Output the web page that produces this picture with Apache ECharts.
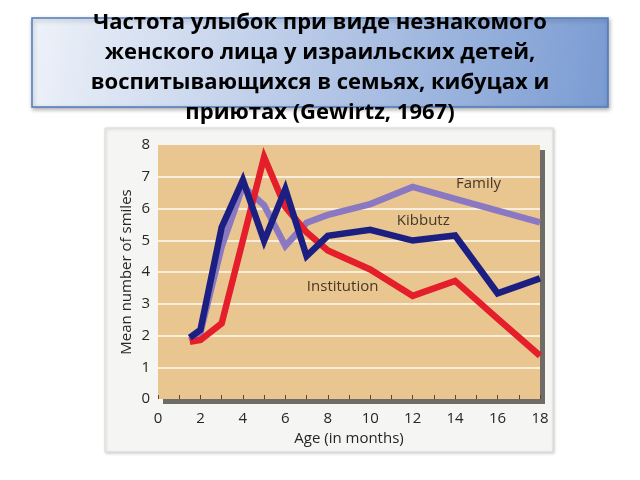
<!DOCTYPE html>
<html><head><meta charset="utf-8">
<script src="https://cdn.jsdelivr.net/npm/echarts@6/dist/echarts.min.js"></script>
<style>html,body{margin:0;padding:0;background:#fff}#c{width:640px;height:480px}</style>
</head><body><div id="c"></div>
<script>
var titleText = 'Частота улыбок при виде незнакомого\nженского лица у израильских детей,\nвоспитывающихся в семьях, кибуцах и\nприютах (Gewirtz, 1967)';
var xName = 'Age (in months)';
var yName = 'Mean number of smiles';
var months = [1.5, 2, 3, 4, 5, 6, 7, 8, 10, 12, 14, 16, 18];
var family = [1.85, 2.1, 4.8, 6.7, 6.1, 4.82, 5.55, 5.8, 6.14, 6.68, 6.3, 5.93, 5.56];
var kibbutz = [1.93, 2.18, 5.41, 6.9, 4.98, 6.61, 4.5, 5.14, 5.33, 4.99, 5.15, 3.33, 3.8];
var institution = [1.8, 1.86, 2.38, 5.0, 7.62, 6.05, 5.25, 4.68, 4.08, 3.25, 3.72, 2.53, 1.36];
var seriesNames = ['Family', 'Kibbutz', 'Institution'];

function pairs(ys){ return months.map(function(m,i){ return [m, ys[i]]; }); }
var labelStyle = {show:true, color:'#45372a', fontFamily:'Open Sans', fontSize:15, position:'inside'};
function mk(name, coord){
  return {symbol:'circle', symbolSize:0, silent:true, label:labelStyle,
    data:[{coord:coord, value:name}]};
}
var axisFont = {fontFamily:'Open Sans', fontSize:15, color:'#262626'};

var chart = echarts.init(document.getElementById('c'), null, {renderer:'canvas'});
chart.setOption({
  animation:false,
  backgroundColor:'#ffffff',
  graphic:[
    {type:'rect', z:-10, shape:{x:105, y:128, width:448, height:324},
     style:{fill:'#f5f5f3', stroke:'#dadada', lineWidth:1, shadowBlur:3, shadowColor:'rgba(0,0,0,0.18)', shadowOffsetX:1, shadowOffsetY:1}},
    {type:'rect', z:-5, shape:{x:32, y:18, width:576, height:89},
     style:{fill:new echarts.graphic.LinearGradient(0,0,1,1,[{offset:0,color:'#eef2f9'},{offset:0.5,color:'#b5c7e6'},{offset:1,color:'#7a9bd2'}]),
       stroke:'#4f7bbd', lineWidth:1.5, shadowBlur:4, shadowColor:'rgba(0,0,0,0.3)', shadowOffsetX:1, shadowOffsetY:2}}
  ],
  title:{
    text:titleText, left:'center', top:3,
    textStyle:{fontFamily:'Open Sans', fontWeight:'bold', fontSize:22, lineHeight:30, color:'#000'}
  },
  grid:{left:158, right:100, top:145, bottom:81, show:true, backgroundColor:'#e9c68f', borderWidth:0,
    shadowColor:'#6f6b67', shadowOffsetX:5, shadowOffsetY:5, shadowBlur:0},
  xAxis:{type:'value', min:0, max:18, interval:2,
    name:xName, nameLocation:'middle', nameGap:31,
    nameTextStyle:axisFont,
    axisLine:{show:false},
    axisTick:{show:true, inside:true, length:4, lineStyle:{color:'#5a4632', width:1}},
    minorTick:{show:true, splitNumber:2, length:4, lineStyle:{color:'#5a4632', width:1}},
    splitLine:{show:false},
    axisLabel:Object.assign({margin:12}, axisFont)
  },
  yAxis:{type:'value', min:0, max:8, interval:1,
    name:yName, nameLocation:'middle', nameGap:24, nameMoveOverlap:false,
    nameTextStyle:axisFont,
    axisLine:{show:false}, axisTick:{show:false},
    splitLine:{show:true, showMinLine:false, showMaxLine:false, lineStyle:{color:'#f8eedb', width:2}},
    axisLabel:Object.assign({margin:8}, axisFont)
  },
  series:[
    {name:seriesNames[0], type:'line', data:pairs(family), symbol:'none', z:2,
     lineStyle:{color:'#8b78c2', width:6.5, join:'miter', cap:'butt'},
     markPoint:mk('Family', [15.1, 6.77])},
    {name:seriesNames[2], type:'line', data:pairs(institution), symbol:'none', z:3,
     lineStyle:{color:'#e41f2b', width:6.5, join:'miter', cap:'butt'},
     markPoint:mk('Institution', [8.7, 3.55])},
    {name:seriesNames[1], type:'line', data:pairs(kibbutz), symbol:'none', z:4,
     lineStyle:{color:'#1c1f82', width:6.5, join:'miter', cap:'butt'},
     markPoint:mk('Kibbutz', [12.5, 5.6])}
  ]
});
</script></body></html>
